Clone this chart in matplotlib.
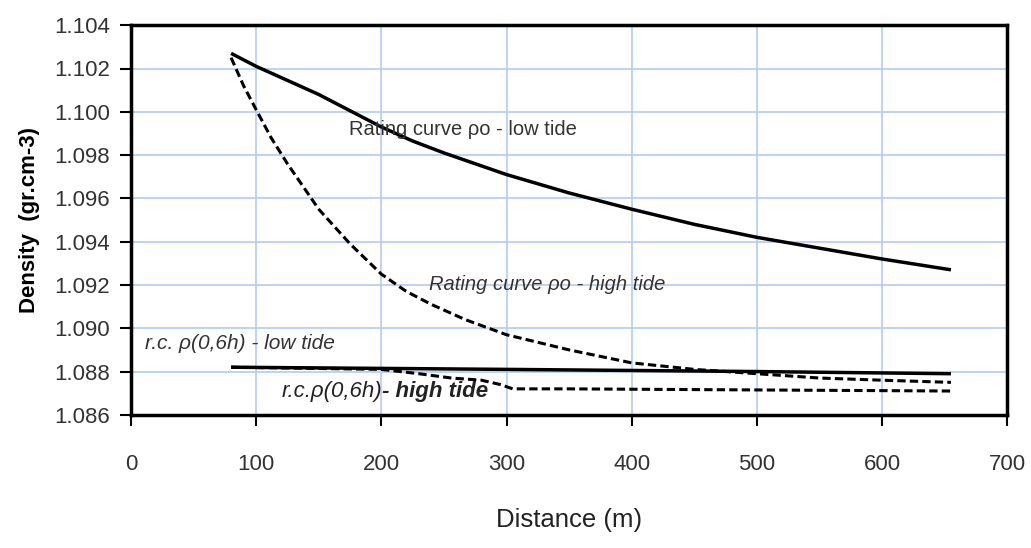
import matplotlib
matplotlib.use("Agg")
from matplotlib import pyplot as plt

# density rating curves
x_low = [80, 100, 125, 150, 175, 200, 225, 250, 275, 300, 350, 400, 450,
         500, 550, 600, 655]
rho0_low = [1.1027, 1.1021, 1.10145, 1.1008, 1.10005, 1.0993, 1.09865,
            1.0981, 1.0976, 1.0971, 1.09625, 1.0955, 1.0948, 1.0942, 1.0937,
            1.0932, 1.0927]

x_high = [80, 90, 100, 112, 125, 150, 175, 200, 220, 240, 267, 300, 350,
          400, 450, 500, 550, 600, 655]
rho0_high = [1.1025, 1.1012, 1.1001, 1.0988, 1.0976, 1.0955, 1.0939, 1.0925,
             1.0917, 1.0911, 1.0904, 1.0897, 1.0890, 1.0884, 1.0881, 1.0879,
             1.0877, 1.0876, 1.0875]

x_06_low = [80, 300, 500, 655]
rho06_low = [1.0882, 1.0881, 1.0880, 1.0879]

x_06_high = [80, 200, 230, 256, 280, 295, 305, 350, 500, 655]
rho06_high = [1.0882, 1.0881, 1.0879, 1.0877, 1.0876, 1.0874, 1.0872,
              1.0872, 1.08715, 1.0871]

x_ticks = [0, 100, 200, 300, 400, 500, 600, 700]
y_ticks = [1.086, 1.088, 1.090, 1.092, 1.094, 1.096, 1.098, 1.100, 1.102, 1.104]

plt.rcParams["font.family"] = ["Liberation Sans", "DejaVu Sans"]
plt.rcParams["lines.scale_dashes"] = False

fig = plt.figure(figsize=(10.31, 5.48), dpi=100)
ax = fig.add_axes([0.127, 0.243, 0.85, 0.711])

ax.plot(x_low, rho0_low, color="black", lw=2.5, solid_capstyle="butt")
ax.plot(x_high, rho0_high, color="black", lw=2.2, dashes=(6, 3))
ax.plot(x_06_low, rho06_low, color="black", lw=2.5, solid_capstyle="butt")
ax.plot(x_06_high, rho06_high, color="black", lw=2.2, dashes=(6, 3))

ax.set_xlim(0, 700)
ax.set_ylim(1.086, 1.104)
ax.set_xticks(x_ticks)
ax.set_yticks(y_ticks)
ax.set_yticklabels(["%.3f" % v for v in y_ticks])
ax.grid(True, color="#b0cdf0", lw=1.2)
ax.set_axisbelow(True)
for s in ax.spines.values():
    s.set_linewidth(2.5)
ax.tick_params(direction="out", length=8, width=1.5, labelsize=16,
               labelcolor="#333333")
ax.tick_params(axis="x", pad=20)
ax.tick_params(axis="y", pad=7)

ax.set_ylabel("Density  (gr.cm-3)", fontsize=16, fontweight="bold",
              labelpad=10)
ax.set_xlabel("Distance (m)", fontsize=18.5, labelpad=24, color="#222222")

# curve labels
ax.text(174, 1.0992, "Rating curve ρo - low tide", fontsize=14.5,
        color="#333333", va="center")
ax.text(238, 1.0920, "Rating curve ρo - high tide", fontsize=14.5,
        style="italic", color="#333333", va="center")
ax.text(11, 1.0893, "r.c. ρ(0,6h) - low tide", fontsize=15,
        style="italic", color="#333333", va="center")
t1 = ax.text(120, 1.0871, "r.c.ρ(0,6h)", fontsize=16, style="italic",
             color="#222222", va="center")
ax.annotate("- high tide", xy=(1, 0.5), xycoords=t1, va="center",
            fontsize=16, style="italic", fontweight="bold", color="#222222")

fig.savefig("out.png", dpi=100, facecolor="white")
